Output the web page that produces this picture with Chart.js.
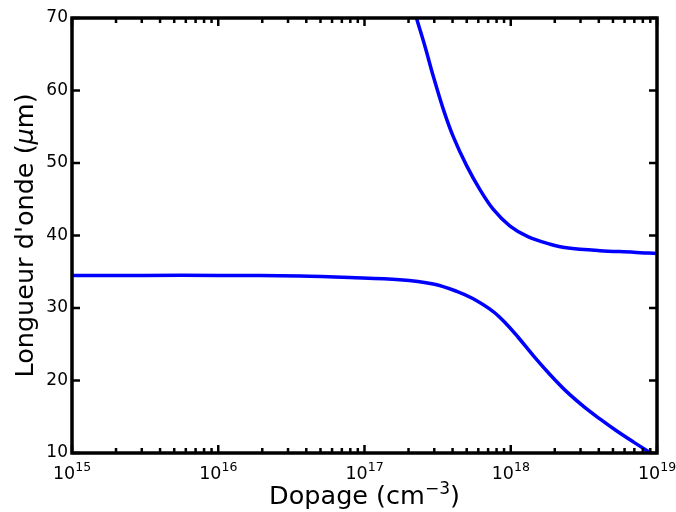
<!DOCTYPE html>
<html>
<head>
<meta charset="utf-8">
<script src="https://cdn.jsdelivr.net/npm/chart.js@4"></script>
<style>
  html, body { margin: 0; padding: 0; background: #fff; }
  #wrap { width: 676px; height: 512px; }
</style>
</head>
<body>
<div id="wrap"><canvas id="chart" width="676" height="512"></canvas></div>
<script>
// values
const lowerDoping = [1e15, 3.16e15, 1e16, 3.63e16, 7.94e16, 1.74e17, 2.95e17, 4.27e17, 5.5e17, 7.59e17, 9.33e17,
    1.12e18, 1.43e18, 1.86e18, 2.4e18, 3.16e18, 4.07e18, 5.25e18, 6.92e18, 8.51e18, 1e19];
const lowerWavelength = [34.5, 34.5, 34.5, 34.4, 34.2, 33.9, 33.3, 32.3, 31.3, 29.5, 27.8,
    26.0, 23.4, 20.8, 18.5, 16.4, 14.7, 13.1, 11.5, 10.35, 9.5];
const upperDoping = [2.19e17, 2.29e17, 2.59e17, 2.95e17, 3.46e17, 4.05e17, 5e17, 6.17e17, 7.6e17, 9.89e17,
    1.32e18, 1.86e18, 2.4e18, 4.07e18, 6.92e18, 1e19];
const upperWavelength = [71.1, 69.7, 66.1, 62.0, 57.4, 53.6, 49.6, 46.3, 43.6, 41.3, 39.8, 38.8, 38.3, 37.9, 37.7, 37.5];
const xMajorTicks = [1e15, 1e16, 1e17, 1e18, 1e19];
const yTicks = [10, 20, 30, 40, 50, 60, 70];

const font = 'DejaVu Sans';
const toXY = (xs, ys) => xs.map((x, i) => ({ x: x, y: ys[i] }));

// draw text pieces one after another, [text, font, dy]
function drawPieces(ctx, pieces, x, y) {
    let w = 0;
    pieces.forEach(p => { ctx.font = p[1]; w += ctx.measureText(p[0]).width; });
    let cx = x - w / 2;
    ctx.textAlign = 'left';
    pieces.forEach(p => {
        ctx.font = p[1];
        ctx.fillText(p[0], cx, y + (p[2] || 0));
        cx += ctx.measureText(p[0]).width;
    });
}

// frame, inward ticks on all four sides, x labels and axis titles
const frameTicks = {
    id: 'frameTicks',
    afterDraw(chart) {
        const { ctx, chartArea: a, scales } = chart;
        const xs = scales.x, ys = scales.y;
        ctx.save();
        ctx.strokeStyle = '#000';
        ctx.lineWidth = 2.5;
        ctx.beginPath();
        const majLen = 8, minLen = 5;
        for (let k = 15; k <= 19; k++) {
            for (let m = 1; m <= 9; m++) {
                const v = m * Math.pow(10, k);
                if (v > 1e19) break;
                const px = xs.getPixelForValue(v);
                const len = m === 1 ? majLen : minLen;
                ctx.moveTo(px, a.bottom); ctx.lineTo(px, a.bottom - len);
                ctx.moveTo(px, a.top); ctx.lineTo(px, a.top + len);
            }
        }
        yTicks.forEach(v => {
            const py = ys.getPixelForValue(v);
            ctx.moveTo(a.left, py); ctx.lineTo(a.left + majLen, py);
            ctx.moveTo(a.right, py); ctx.lineTo(a.right - majLen, py);
        });
        ctx.stroke();
        ctx.lineWidth = 3.5;
        ctx.strokeRect(a.left, a.top, a.right - a.left, a.bottom - a.top);

        ctx.fillStyle = '#000';
        ctx.textBaseline = 'alphabetic';
        xMajorTicks.forEach(v => {
            const px = xs.getPixelForValue(v);
            const e = String(Math.round(Math.log10(v)));
            drawPieces(ctx, [['10', '17.5px ' + font], [e, '12.5px ' + font, -8]], px, a.bottom + 26);
        });

        drawPieces(ctx, [['Dopage (cm', '25.5px ' + font], ['\u22123', '17px ' + font, -10], [')', '25.5px ' + font]],
            (a.left + a.right) / 2, 504);

        ctx.save();
        ctx.translate(33, (a.top + a.bottom) / 2);
        ctx.rotate(-Math.PI / 2);
        drawPieces(ctx, [["Longueur d'onde (", '25.5px ' + font], ['\u03bc', 'italic 25.5px ' + font], ['m)', '25.5px ' + font]], 0, 0);
        ctx.restore();
        ctx.restore();
    }
};

new Chart(document.getElementById('chart'), {
    type: 'line',
    data: {
        datasets: [
            { data: toXY(lowerDoping, lowerWavelength), borderColor: '#0000ff', borderWidth: 3.5, pointRadius: 0, tension: 0.35, clip: 0 },
            { data: toXY(upperDoping, upperWavelength), borderColor: '#0000ff', borderWidth: 3.5, pointRadius: 0, tension: 0.35, clip: 0 }
        ]
    },
    options: {
        responsive: false,
        animation: false,
        layout: { padding: { top: 18, right: 19, left: 0, bottom: 0 } },
        plugins: { legend: { display: false }, tooltip: { enabled: false } },
        scales: {
            x: {
                type: 'logarithmic',
                min: 1e15,
                max: 1e19,
                grid: { display: false, drawTicks: false },
                border: { display: false },
                afterBuildTicks: s => { s.ticks = xMajorTicks.map(v => ({ value: v })); },
                afterFit: s => { s.height = 59; s.paddingLeft = 0; s.paddingRight = 0; },
                ticks: { display: false }
            },
            y: {
                min: 10,
                max: 70,
                grid: { display: false, drawTicks: false },
                border: { display: false },
                afterBuildTicks: s => { s.ticks = yTicks.map(v => ({ value: v })); },
                afterFit: s => { s.width = 72; s.paddingTop = 0; s.paddingBottom = 0; },
                ticks: { padding: 4, color: '#000', font: { family: font, size: 17 } }
            }
        }
    },
    plugins: [frameTicks]
});
</script>
</body>
</html>
